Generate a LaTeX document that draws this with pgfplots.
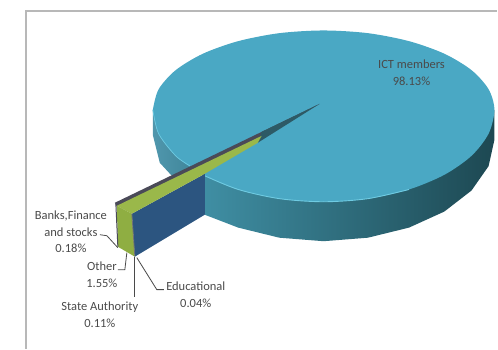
\documentclass[border=0pt]{standalone}
\usepackage{pgfplots}
\pgfplotsset{compat=1.18}
\usepackage{fontspec}
\setmainfont{Carlito}
\definecolor{pietop}{HTML}{4AA8C4}
\definecolor{rim}{HTML}{6FCBE2}
\definecolor{blueside}{HTML}{2C5580}
\definecolor{greentop}{HTML}{9AB84A}
\definecolor{greenface}{HTML}{8FAE42}
\definecolor{darkstrip}{HTML}{4A4A58}
\definecolor{frame}{HTML}{B8B8B8}
\definecolor{txt}{HTML}{4A4A4A}
\definecolor{sidea}{HTML}{3F8EA3}
\definecolor{sideb}{HTML}{2B6273}
\definecolor{sidec}{HTML}{1D4852}
\definecolor{sided}{HTML}{5097AD}
\definecolor{sidee}{HTML}{3F8599}
\definecolor{tipc}{HTML}{2D5A66}
\begin{document}
\begin{tikzpicture}
\begin{axis}[
  width=498pt,height=349pt,scale only axis,
  xmin=0,xmax=498,ymin=0,ymax=349,y dir=reverse,
  axis lines=none,clip=false,
  every axis plot/.append style={forget plot},
  nodes={font=\fontsize{12.5}{16.5}\selectfont,text=txt,align=center,inner sep=0pt}
]
% frame
\addplot[frame,line width=1.2pt] coordinates {(26,349) (26,11) (498,11)};
% side of main pie, right of the gap
\addplot[draw=none,left color=sidea,middle color=sideb,right color=sidec] coordinates {
 (205,150) (205,215) (238.5,227.9) (279.7,238) (324,241.5) (368.3,238) (409.5,227.9) (444.9,211.8) (472.1,190.75) (489.2,166.3) (495,140) (495,110) (324,110)} --cycle;
% side of main pie, left of the gap
\addplot[draw=none,left color=sided,right color=sidee] coordinates {
 (153,110) (153,135) (160,163) (172,176) (195,176) (195,110)} --cycle;
% top of main pie
\addplot[smooth,draw=none,fill=pietop] coordinates {
 (153,110) (158.8,89.4) (175.9,70.25) (203.1,53.8) (238.5,41.2) (279.7,33.2) (324,30.5) (368.3,33.2) (409.5,41.2) (444.9,53.8) (472.1,70.25) (489.2,89.4) (495,110)
 (489.2,133.8) (472.1,156) (444.9,175) (409.5,189.7) (368.3,198.9) (324,202) (279.7,198.9) (238.5,189.7) (203.1,175) (175.9,156) (158.8,133.8) (153,110)};
% rim highlight
\addplot[smooth,rim,line width=0.9pt] coordinates {(205,176) (238.5,189.7) (279.7,198.9) (324,202) (368.3,198.9) (409.5,189.7)};
\addplot[smooth,rim,line width=0.7pt] coordinates {(153,110) (158.8,133.8) (175.9,156) (190,166)};
% blue side of the pulled-out slices
\addplot[draw=none,fill=blueside] coordinates {(205,174) (205,215) (135,257) (132,214)} --cycle;
% dark top strip
\addplot[draw=none,fill=darkstrip] coordinates {(320,104) (115,203) (117,207) (262,137)} --cycle;
% inner tip
\addplot[draw=none,fill=tipc] coordinates {(320,104) (262,132) (258,143)} --cycle;
% green top
\addplot[draw=none,fill=greentop] coordinates {(262,136) (117,206) (132,214) (205,174) (258,143)} --cycle;
% green face
\addplot[draw=none,fill=greenface] coordinates {(117,206) (132,214) (135,257) (118,247)} --cycle;
% edges
\addplot[darkstrip,line width=1pt] coordinates {(116,204) (118,247)};
\addplot[darkstrip!80,line width=0.8pt] coordinates {(132,214) (135,257)};
% leader lines
\addplot[txt,line width=0.8pt] coordinates {(100,235) (107,236) (118,248)};
\addplot[txt,line width=0.8pt] coordinates {(118,270) (125,270) (127,253)};
\addplot[txt,line width=0.8pt] coordinates {(135,257) (135,297)};
\addplot[txt,line width=0.8pt] coordinates {(137,258) (157,290) (164,290)};
% labels
\node at (axis cs:412,73) {ICT members\\98.13\%};
\node at (axis cs:71,232) {Banks,Finance\\and stocks\\0.18\%};
\node at (axis cs:102,275) {Other\\1.55\%};
\node at (axis cs:196,295) {Educational\\0.04\%};
\node at (axis cs:100,315) {State Authority\\0.11\%};
% keep full extent
\addplot[draw=none] coordinates {(0,0) (498,349)};
\end{axis}
\end{tikzpicture}
\end{document}
